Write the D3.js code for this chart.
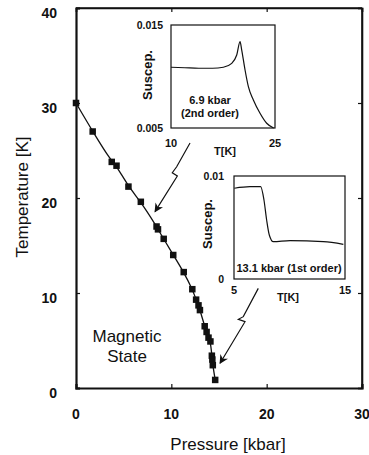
<!DOCTYPE html>
<html>
<head>
<meta charset="utf-8">
<script src="https://cdn.jsdelivr.net/npm/d3@7"></script>
<style>
  html, body { margin: 0; padding: 0; background: #fff; }
  svg { display: block; }
  text { font-family: "Liberation Sans", Arial, Helvetica, sans-serif; fill: #111; }
</style>
</head>
<body>
<svg id="chart" width="369" height="455"></svg>
<script>
// ---------- data ----------
const pressure = [0, 1.75, 3.75, 4.25, 5.5, 6.8, 8.45, 8.6, 9.2, 10.2, 11.3, 12.2, 12.6, 12.85, 13.0, 13.5, 13.7, 13.9, 14.1, 14.25, 14.3, 14.35, 14.6];
const temperature = [30, 27.0, 23.8, 23.4, 21.2, 19.6, 17.0, 16.7, 15.7, 14.0, 12.2, 10.4, 9.3, 8.7, 8.2, 6.5, 5.9, 5.3, 4.9, 3.4, 3.0, 2.4, 0.85];

const xTicks = [0, 10, 20, 30];
const yTicks = [0, 10, 20, 30, 40];

// inset A: 6.9 kbar (2nd order)
const insetA_T = [10, 12, 14, 16, 17.55, 18.76, 19.48, 19.96, 20.2, 20.68, 21.16, 21.88, 22.84, 23.8, 24.8];
const insetA_S = [0.0109, 0.01085, 0.0108, 0.0108, 0.0109, 0.01128, 0.01209, 0.01338, 0.01257, 0.01063, 0.00901, 0.00772, 0.00643, 0.00546, 0.0050];
const insetA_xTicks = [10, 25];
const insetA_yTicks = [0.005, 0.015];

// inset B: 13.1 kbar (1st order)
const insetB_T = [5.03, 6.44, 7.4, 7.7, 7.94, 8.18, 8.54, 10.05, 13.05, 14.85];
const insetB_S = [0.00881, 0.00896, 0.00896, 0.00767, 0.00573, 0.00427, 0.00362, 0.00372, 0.00362, 0.00337];
const insetB_xTicks = [5, 15];
const insetB_yTicks = [0, 0.01];

// annotation arrows (data units of main plot: pressure, temperature)
const arrowA = [[11.96, 25.79], [10.56, 23.29], [10.10, 22.66], [10.63, 22.32], [8.29, 18.56]];
const arrowB = [[19.12, 10.49], [17.55, 7.51], [17.03, 7.23], [17.73, 6.98], [15.11, 2.6]];

// ---------- layout ----------
const svg = d3.select("#chart");
const L = 76, R = 362, T = 8, B = 388;

const x = d3.scaleLinear().domain([0, 30]).range([L, R]);
const y = d3.scaleLinear().domain([0, 40]).range([B, T]);

// frame
svg.append("line").attr("x1", L).attr("x2", R).attr("y1", T).attr("y2", T).attr("stroke", "#111").attr("stroke-width", 1.6);
svg.append("line").attr("x1", R).attr("x2", R).attr("y1", T).attr("y2", B).attr("stroke", "#111").attr("stroke-width", 1.6);

// axes (ticks inward, custom labels)
const axB = svg.append("g").attr("transform", `translate(0,${B})`)
  .call(d3.axisBottom(x).tickValues(xTicks).tickSize(-4).tickFormat(""));
const axT = svg.append("g").attr("transform", `translate(0,${T})`)
  .call(d3.axisTop(x).tickValues(xTicks).tickSize(-4).tickFormat(""));
const axL = svg.append("g").attr("transform", `translate(${L},0)`)
  .call(d3.axisLeft(y).tickValues(yTicks).tickSize(-4).tickFormat(""));
const axR = svg.append("g").attr("transform", `translate(${R},0)`)
  .call(d3.axisRight(y).tickValues(yTicks).tickSize(-4).tickFormat(""));
[axB, axT, axL, axR].forEach(g => {
  g.selectAll("path.domain").attr("stroke", "#111").attr("stroke-width", 1.6);
  g.selectAll(".tick line").attr("stroke", "#111").attr("stroke-width", 1.2);
});
axB.select("path.domain").attr("stroke-width", 2.2);
axL.select("path.domain").attr("stroke-width", 2.2);

// tick labels
svg.selectAll("text.xt").data(xTicks).join("text").attr("class", "xt")
  .attr("x", d => x(d)).attr("y", 419).attr("text-anchor", "middle")
  .attr("font-size", 14).attr("font-weight", "bold").text(d => d);
svg.selectAll("text.yt").data(yTicks).join("text").attr("class", "yt")
  .attr("x", 57).attr("y", d => y(d) + 9.5).attr("text-anchor", "end")
  .attr("font-size", 14).attr("font-weight", "bold").text(d => d);

// axis titles
svg.append("text").attr("x", 228).attr("y", 450).attr("text-anchor", "middle")
  .attr("font-size", 17).text("Pressure [kbar]");
svg.append("text").attr("transform", "translate(28,197) rotate(-90)").attr("text-anchor", "middle")
  .attr("font-size", 17).text("Temperature [K]");

// Magnetic State
svg.append("text").attr("x", 127).attr("y", 342).attr("text-anchor", "middle").attr("font-size", 17).text("Magnetic");
svg.append("text").attr("x", 127).attr("y", 362).attr("text-anchor", "middle").attr("font-size", 17).text("State");

// phase boundary line
const pts = pressure.map((p, i) => [p, temperature[i]]);
svg.append("path").datum(pts)
  .attr("d", d3.line().x(d => x(d[0])).y(d => y(d[1])).curve(d3.curveBasis))
  .attr("fill", "none").attr("stroke", "#111").attr("stroke-width", 1.3);

// markers
const ms = 6.5;
svg.selectAll("rect.pt").data(pts).join("rect").attr("class", "pt")
  .attr("x", d => x(d[0]) - ms / 2).attr("y", d => y(d[1]) - ms / 2)
  .attr("width", ms).attr("height", ms).attr("fill", "#111");

// arrowhead marker
const defs = svg.append("defs");
defs.append("marker").attr("id", "ah").attr("markerUnits", "userSpaceOnUse")
  .attr("viewBox", "0 0 10 10").attr("refX", 9).attr("refY", 5)
  .attr("markerWidth", 10).attr("markerHeight", 9).attr("orient", "auto")
  .append("path").attr("d", "M0,0 L10,5 L0,10 L3,5 Z").attr("fill", "#111");

[arrowA, arrowB].forEach(a => {
  svg.append("path").datum(a)
    .attr("d", d3.line().x(d => x(d[0])).y(d => y(d[1])))
    .attr("fill", "none").attr("stroke", "#111").attr("stroke-width", 1.2)
    .attr("marker-end", "url(#ah)");
});

// ---------- insets ----------
function inset(box, xd, yd, tT, tS, xt, yt, fmtY, lab, conf) {
  const ix = d3.scaleLinear().domain(xd).range([box.x0, box.x1]);
  const iy = d3.scaleLinear().domain(yd).range([box.y1, box.y0]);
  const g = svg.append("g");
  g.append("rect").attr("x", box.x0).attr("y", box.y0)
    .attr("width", box.x1 - box.x0).attr("height", box.y1 - box.y0)
    .attr("fill", "#fff").attr("stroke", "#111").attr("stroke-width", 1.2);
  const d = tT.map((t, i) => [t, tS[i]]);
  g.append("path").datum(d)
    .attr("d", d3.line().x(v => ix(v[0])).y(v => iy(v[1])).curve(d3.curveMonotoneX))
    .attr("fill", "none").attr("stroke", "#111").attr("stroke-width", 1.2);
  g.selectAll("text.ixt").data(xt).join("text").attr("class", "ixt")
    .attr("x", v => ix(v)).attr("y", conf.xLabY).attr("text-anchor", "middle")
    .attr("font-size", 11).attr("font-weight", "bold").text(v => v);
  g.selectAll("text.iyt").data(yt).join("text").attr("class", "iyt")
    .attr("x", conf.yLabX).attr("y", v => iy(v) + 4).attr("text-anchor", "end")
    .attr("font-size", 10.5).attr("font-weight", "bold").text(fmtY);
  g.append("text").attr("x", conf.tkX).attr("y", conf.tkY).attr("text-anchor", "middle")
    .attr("font-size", 11).attr("font-weight", "bold").text("T[K]");
  g.append("text").attr("transform", `translate(${conf.suX},${conf.suY}) rotate(-90)`)
    .attr("text-anchor", "middle").attr("font-size", 13).attr("font-weight", "bold").text("Suscep.");
  lab.forEach(l => {
    g.append("text").attr("x", l.x).attr("y", l.y).attr("text-anchor", "middle")
      .attr("font-size", 11).attr("font-weight", "bold").text(l.t);
  });
}

inset({x0: 171, x1: 275, y0: 25, y1: 128}, [10, 25], [0.005, 0.015],
  insetA_T, insetA_S, insetA_xTicks, insetA_yTicks, v => d3.format(".3f")(v),
  [{x: 210, y: 104, t: "6.9 kbar"}, {x: 210, y: 117, t: "(2nd order)"}],
  {xLabY: 147, yLabX: 163, tkX: 225, tkY: 155, suX: 152, suY: 75});

inset({x0: 234, x1: 345, y0: 176, y1: 279}, [5, 15], [0, 0.01],
  insetB_T, insetB_S, insetB_xTicks, insetB_yTicks, v => v === 0 ? "0" : "0.01",
  [{x: 289, y: 272, t: "13.1 kbar (1st order)"}],
  {xLabY: 294, yLabX: 224, tkX: 288, tkY: 301, suX: 212, suY: 224});
</script>
</body>
</html>
